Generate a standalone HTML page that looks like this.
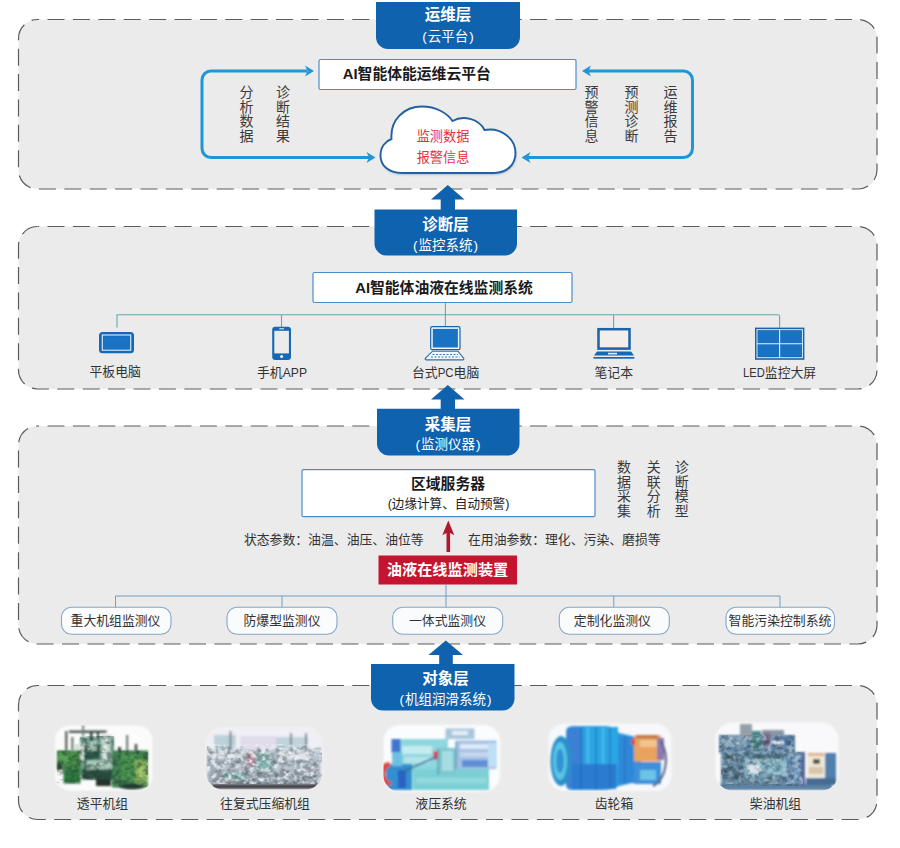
<!DOCTYPE html>
<html lang="zh-CN">
<head>
<meta charset="utf-8">
<title>AI智能体油液在线监测系统架构</title>
<style>
html,body{margin:0;padding:0;background:#fff;}
body{width:900px;height:848px;overflow:hidden;position:relative;font-family:"Liberation Sans","Noto Sans CJK SC",sans-serif;}
svg{position:absolute;left:0;top:0;display:block;}
svg text{font-family:"Liberation Sans","Noto Sans CJK SC",sans-serif;}
.panel{fill:#ebebeb;stroke:#5c5c5c;stroke-width:1.2;stroke-dasharray:17 8.4;stroke-dashoffset:-10;}
.tab{fill:#0f62ad;}
.tt{fill:#fff;font-weight:700;font-size:15.5px;text-anchor:middle;}
.ts{fill:#fff;font-size:13.5px;text-anchor:middle;}
.box{fill:#fff;stroke:#4a8ec9;stroke-width:1.2;}
.bt{fill:#1a1a1a;font-weight:700;font-size:14.8px;text-anchor:middle;}
.lbl{fill:#333;font-size:12.85px;text-anchor:middle;}
.v{fill:#3a3a3a;font-size:14px;text-anchor:middle;}
.ln{fill:none;stroke:#63a9ac;stroke-width:1.1;}
.loop{fill:none;stroke:#2196d6;stroke-width:3;stroke-linejoin:round;}
.ah{fill:#2196d6;}
.up{fill:#0f62ad;}
.pill{fill:#f9fbfd;stroke:#86a6c4;stroke-width:1.1;}
.ib{fill:#1668b4;}
</style>
</head>
<body>
<svg width="900" height="848" viewBox="0 0 900 848">
<rect width="900" height="848" fill="#fff"/>

<!-- ===== panels ===== -->
<rect class="panel" x="18.5" y="19.5" width="858.5" height="169.5" rx="19" ry="19"/>
<rect class="panel" x="18.5" y="226.5" width="858.5" height="162.5" rx="19" ry="19"/>
<rect class="panel" x="18.5" y="426" width="858.5" height="218" rx="19" ry="19"/>
<rect class="panel" x="18.5" y="685.5" width="858.5" height="134" rx="19" ry="19"/>

<!-- ===== tabs ===== -->
<g id="tabs">
<path class="tab" d="M376 2H520V37a12 12 0 0 1-12 12H388a12 12 0 0 1-12-12Z"/>
<path class="tab" d="M374.5 209.5H517V243.5a12 12 0 0 1-12 12H386.5a12 12 0 0 1-12-12Z"/>
<path class="tab" d="M377 408.800H519.5V443.500a12 12 0 0 1-12 12H389a12 12 0 0 1-12-12Z"/>
<path class="tab" d="M371 664H514.5V698.5a12 12 0 0 1-12 12H383a12 12 0 0 1-12-12Z"/>
</g>

<!-- ===== up arrows ===== -->
<g id="uparrows">
<path class="up" d="M447.8 185L464.5 199.5H455V210H440.7V199.5H431Z"/>
<path class="up" d="M447.8 385L464.5 399.5H455V410H440.7V399.5H431Z"/>
<path class="up" d="M445.8 640.5L463 655H452.8V664.5H439.2V655H428.5Z"/>
</g>

<!-- tab text -->
<text class="tt" x="448" y="20.0">运维层</text>
<text class="ts" x="448" y="40.5">(<tspan dx="0.9">云平台</tspan><tspan dx="0.9">)</tspan></text>
<text class="tt" x="445.5" y="230.0">诊断层</text>
<text class="ts" x="445.5" y="249.5">(<tspan dx="0.9">监控系统</tspan><tspan dx="0.9">)</tspan></text>
<text class="tt" x="448" y="429.5">采集层</text>
<text class="ts" x="448" y="449.0">(<tspan dx="0.9">监测仪器</tspan><tspan dx="0.9">)</tspan></text>
<text class="tt" x="445.5" y="683.5">对象层</text>
<text class="ts" x="445.5" y="703.5">(<tspan dx="0.9">机组润滑系统</tspan><tspan dx="0.9">)</tspan></text>

<!-- ===== panel 1 ===== -->
<g id="p1">
<defs><filter id="cbl" x="-10%" y="-10%" width="120%" height="130%"><feGaussianBlur stdDeviation="1.1"/></filter></defs>
<rect class="box" x="319" y="59.5" width="257" height="30" rx="1.500"/>
<text class="bt" x="416.800" y="78.500">AI智能体能运维云平台</text>
<path class="loop" d="M369 157.5H211a9 9 0 0 1-9-9V80a9 9 0 0 1 9-9H307"/>
<path class="ah" d="M314 71L305 65.500L307.500 71L305 76.500Z"/>
<path class="ah" d="M375.500 157.5L366.500 152L369 157.5L366.500 163Z"/>
<path class="loop" d="M588 71H683.500a9 9 0 0 1 9 9V148.500a9 9 0 0 1-9 9H528"/>
<path class="ah" d="M582 71L591 65.500L588.500 71L591 76.500Z"/>
<path class="ah" d="M521.500 157.5L530.500 152L528 157.5L530.500 163Z"/>
<g class="v">
<text x="246.500" y="97">分</text><text x="246.500" y="111.600">析</text><text x="246.500" y="126.200">数</text><text x="246.500" y="140.800">据</text>
<text x="283" y="97">诊</text><text x="283" y="111.600">断</text><text x="283" y="126.200">结</text><text x="283" y="140.800">果</text>
<text x="591.500" y="97">预</text><text x="591.500" y="111.600">警</text><text x="591.500" y="126.200">信</text><text x="591.500" y="140.800">息</text>
<text x="631.400" y="97">预</text><text x="631.400" y="111.600">测</text><text x="631.400" y="126.200">诊</text><text x="631.400" y="140.800">断</text>
<text x="670.600" y="97">运</text><text x="670.600" y="111.600">维</text><text x="670.600" y="126.200">报</text><text x="670.600" y="140.800">告</text>
</g>
<path d="M402 173C388 173 380.500 165 380.500 155.500C380.500 147 385.500 141 391.500 139C390 120 404 106.500 422 106.500C436 106.500 447 113 452.500 121C463 115 478.500 118.500 484.500 130C501 127 515.500 138.500 515.500 153C515.500 164.500 507 173 494 173Z" fill="#7fa6cf" opacity="0.75" transform="translate(0.6 1.6)" filter="url(#cbl)"/>
<path d="M402 173C388 173 380.500 165 380.500 155.500C380.500 147 385.500 141 391.500 139C390 120 404 106.500 422 106.500C436 106.500 447 113 452.500 121C463 115 478.500 118.500 484.500 130C501 127 515.500 138.500 515.500 153C515.500 164.500 507 173 494 173Z" fill="#fff" stroke="#2260a2" stroke-width="1.900"/>
<text x="443" y="140.500" font-size="13.200" fill="#e2313e" text-anchor="middle">监测数据</text>
<text x="443" y="161.700" font-size="13.200" fill="#e2313e" text-anchor="middle">报警信息</text>
</g>

<!-- ===== panel 2 ===== -->
<g id="p2">
<rect class="box" x="313" y="272.500" width="259" height="30" rx="1.500"/>
<text class="bt" x="444" y="292.700">AI智能体油液在线监测系统</text>
<path class="ln" d="M117 327.500V314.700H778a1.600 1.600 0 0 1 1.600 1.600V327.500M281.500 314.700V327M445.400 302.500V327M613.600 314.700V328"/>
<!-- tablet -->
<rect class="ib" x="99" y="332" width="35" height="21.200" rx="3.500"/>
<rect x="102.300" y="335" width="28.400" height="15.200" fill="none" stroke="#dff3ff" stroke-width="1.100"/>
<rect x="103.500" y="336.200" width="26" height="12.800" fill="#1a72c4"/>
<!-- phone -->
<rect class="ib" x="272.200" y="326.700" width="18.800" height="33.200" rx="3.200"/>
<rect x="274.300" y="330.800" width="14.600" height="22.600" fill="#ececec"/>
<rect x="279.300" y="328.300" width="4.600" height="1" fill="#e8f6ff"/>
<circle cx="281.600" cy="356.600" r="1.500" fill="#e8f6ff"/>
<!-- desktop pc -->
<rect x="430.700" y="326.700" width="29.300" height="23" rx="1.500" fill="#e6f5ff" stroke="#1b62a6" stroke-width="1.200"/>
<rect x="432.800" y="328.900" width="25.100" height="18.600" fill="#1a72c4"/>
<path d="M432.500 351.200H458L463.700 358.300a1 1 0 0 1-.8 1.600H426.100a1 1 0 0 1-.8-1.600Z" fill="#eef7ff" stroke="#2a6fb0" stroke-width="1.100"/>
<path d="M432.500 354.500H458M431 357H459.500" stroke="#3b7dbb" stroke-width="1.100" stroke-dasharray="2 1.500" fill="none"/>
<!-- laptop -->
<rect x="598.500" y="329.200" width="31" height="19.400" fill="#f1eeec" stroke="#1b62a6" stroke-width="2.500"/>
<path class="ib" d="M597 351.600H631L634 355.600H594Z"/>
<rect x="608" y="352.800" width="9" height="1.600" fill="#dff3ff"/>
<rect class="ib" x="593.500" y="357" width="40.800" height="1.700"/>
<!-- LED -->
<rect x="755" y="327.600" width="49.400" height="32.200" fill="#1b62a6"/>
<rect x="757" y="329.700" width="45.400" height="28" fill="none" stroke="#dff3ff" stroke-width="1"/>
<rect x="758" y="330.700" width="43.400" height="26" fill="#1a72c4"/>
<path d="M779.600 329.700V357.700M757 343.800H802.400" stroke="#dff3ff" stroke-width="1.100" fill="none"/>
<text class="lbl" x="115.200" y="376">平板电脑</text>
<text class="lbl" style="text-anchor:start" x="257" y="376.600">手机<tspan textLength="24.300" lengthAdjust="spacingAndGlyphs">APP</tspan></text>
<text class="lbl" style="text-anchor:start" x="412" y="376.600">台式<tspan textLength="15.900" lengthAdjust="spacingAndGlyphs">PC</tspan>电脑</text>
<text class="lbl" x="613.800" y="376.600">笔记本</text>
<text class="lbl" style="text-anchor:start" x="743" y="376.600"><tspan textLength="21.800" lengthAdjust="spacingAndGlyphs">LED</tspan>监控大屏</text>
</g>

<!-- ===== panel 3 ===== -->
<g id="p3">
<rect class="box" x="302" y="469.700" width="293" height="47" rx="1.500"/>
<text class="bt" x="448" y="489">区域服务器</text>
<text x="448.500" y="507.500" font-size="12.600" fill="#222" text-anchor="middle">(边缘计算、自动预警)</text>
<text class="lbl" x="333.800" y="544.200">状态参数：油温、油压、油位等</text>
<text class="lbl" x="564.300" y="544.200">在用油参数：理化、污染、磨损等</text>
<g class="v">
<text x="624" y="472">数</text><text x="624" y="486.700">据</text><text x="624" y="501.400">采</text><text x="624" y="516.100">集</text>
<text x="653.700" y="472">关</text><text x="653.700" y="486.700">联</text><text x="653.700" y="501.400">分</text><text x="653.700" y="516.100">析</text>
<text x="681.800" y="472">诊</text><text x="681.800" y="486.700">断</text><text x="681.800" y="501.400">模</text><text x="681.800" y="516.100">型</text>
</g>
<path d="M448.300 520.500L454.300 535.300L450.100 533V552H446.500V533L442.300 535.300Z" fill="#b3162f"/>
<rect x="378.500" y="555.500" width="138.500" height="29" fill="#c4142f"/>
<text x="447.500" y="574.800" font-size="15.200" font-weight="700" fill="#fff" text-anchor="middle">油液在线监测装置</text>
<path class="ln" d="M115.500 607V596H780V607M282 596V607M446 584.500V607M613.800 596V607" style="stroke:#6b9dc6;stroke-width:1"/>
<rect class="pill" x="61.500" y="607.300" width="109.500" height="27" rx="10"/>
<rect class="pill" x="227" y="607.300" width="110" height="27" rx="10"/>
<rect class="pill" x="392.700" y="607.300" width="110" height="27" rx="10"/>
<rect class="pill" x="559.300" y="607.300" width="110" height="27" rx="10"/>
<rect class="pill" x="726" y="607.300" width="108.500" height="27" rx="10"/>
<text class="lbl" x="115.500" y="625.400">重大机组监测仪</text>
<text class="lbl" x="282" y="625.400">防爆型监测仪</text>
<text class="lbl" x="447.500" y="625.400">一体式监测仪</text>
<text class="lbl" x="612.400" y="625.200">定制化监测仪</text>
<text class="lbl" x="780" y="625.400">智能污染控制系统</text>
</g>

<!-- ===== panel 4 ===== -->
<g id="p4">
<defs>
<filter id="bl" x="-10%" y="-10%" width="120%" height="120%"><feGaussianBlur stdDeviation="0.9"/></filter>
<filter id="bl2" x="-10%" y="-10%" width="120%" height="120%"><feGaussianBlur stdDeviation="1.6"/></filter>
<filter id="nzd" x="0" y="0" width="100%" height="100%" color-interpolation-filters="sRGB"><feTurbulence type="fractalNoise" baseFrequency="0.16 0.2" numOctaves="2" seed="7" result="n"/><feColorMatrix in="n" type="matrix" values="0 0 0 0 0.13  0 0 0 0 0.2  0 0 0 0 0.2  2.4 2.4 0 0 -2.1"/><feGaussianBlur stdDeviation="0.7"/><feComposite operator="in" in2="SourceGraphic"/></filter>
<filter id="nzl" x="0" y="0" width="100%" height="100%" color-interpolation-filters="sRGB"><feTurbulence type="fractalNoise" baseFrequency="0.18 0.22" numOctaves="2" seed="21" result="n"/><feColorMatrix in="n" type="matrix" values="0 0 0 0 0.93  0 0 0 0 0.95  0 0 0 0 0.97  0 2.2 2.2 0 -2.0"/><feGaussianBlur stdDeviation="0.7"/><feComposite operator="in" in2="SourceGraphic"/></filter>
<clipPath id="m1"><rect x="57" y="750.500" width="24" height="33"/><rect x="80" y="736" width="34" height="44"/><rect x="112" y="750.500" width="36" height="37"/></clipPath>
<clipPath id="c1"><rect x="55" y="725.5" width="97.500" height="65" rx="15"/></clipPath>
<clipPath id="c2"><rect x="206" y="727.5" width="116.500" height="62" rx="17"/></clipPath>
<clipPath id="c3"><rect x="383.500" y="725" width="116.500" height="66.500" rx="16"/></clipPath>
<clipPath id="c4"><rect x="548.500" y="723.500" width="123" height="67.500" rx="16"/></clipPath>
<clipPath id="c5"><rect x="715.500" y="722.500" width="123" height="68" rx="17"/></clipPath>
</defs>

<!-- photo 1 : turbine -->
<rect x="55" y="725.500" width="97.500" height="65" rx="15" fill="#fbfbfb" filter="url(#bl)"/>
<g clip-path="url(#c1)"><g filter="url(#bl)">
<rect x="80" y="737" width="34" height="38" fill="#6e9c8b"/>
<rect x="74.500" y="744" width="10" height="16" fill="#d3e2da"/>
<rect x="84" y="745" width="16" height="20" fill="#2f6150"/>
<rect x="88" y="741" width="9" height="10" fill="#a9c9bb"/>
<rect x="101" y="735" width="10" height="25" fill="#b7d1c6"/>
<rect x="104" y="737" width="3" height="22" fill="#e3eee9"/>
<rect x="86.500" y="760" width="27" height="10" fill="#a7c7b7"/>
<rect x="82" y="769.500" width="34" height="10" fill="#2a5141"/>
<rect x="57" y="750.500" width="23.500" height="19" fill="#468c46"/>
<rect x="59" y="753" width="9" height="14" fill="#5aa356"/>
<rect x="63.500" y="769" width="17" height="14.500" fill="#2f7a40"/>
<rect x="57" y="762" width="5" height="8" fill="#2a4a38"/>
<rect x="112" y="750.500" width="36" height="37" fill="#3f8150"/>
<rect x="122" y="752" width="14" height="30" fill="#4c9650"/>
<rect x="135" y="760" width="13" height="24" fill="#7fb25a"/>
<rect x="138" y="766" width="8" height="14" fill="#9cc468"/>
<ellipse cx="132" cy="786.500" rx="12.500" ry="3" fill="#223d30"/>
<rect x="96" y="779" width="15" height="7" fill="#25302c"/>
<rect x="69" y="730.600" width="37.500" height="2.200" fill="#39463f"/>
<rect x="65.300" y="731" width="2" height="19.500" fill="#3d4a43"/>
<rect x="71.500" y="737" width="1.800" height="13" fill="#4b5850"/>
<rect x="82.300" y="722" width="1.800" height="14" fill="#6a766f"/>
<rect x="90" y="732" width="2.500" height="9" fill="#33423b"/>
<rect x="97" y="731" width="2" height="8" fill="#33423b"/>
<rect x="126.300" y="735" width="1.800" height="16" fill="#56635c"/>
<rect x="134.800" y="744" width="2.400" height="8" fill="#3d4a44"/>
<rect x="118" y="747" width="3" height="5" fill="#3d4a44"/>
</g>
<g clip-path="url(#m1)"><rect x="57" y="735" width="91" height="53" fill="#000" filter="url(#nzd)" opacity="0.45"/></g>
</g>

<!-- photo 2 : reciprocating compressor -->
<rect x="206" y="727.500" width="116.500" height="62" rx="17" fill="#f3f3f7" filter="url(#bl)"/>
<g clip-path="url(#c2)"><g filter="url(#bl)">
<rect x="206" y="727.500" width="117" height="20" fill="#efeff5"/>
<rect x="207" y="748" width="114" height="37" fill="#bcc5cd"/>
<rect x="207" y="758" width="114" height="7" fill="#a0aab4"/>
<rect x="209" y="770" width="112" height="13" fill="#98a2ac"/>
<rect x="214" y="735" width="22" height="15" fill="#bcd2d8"/>
<rect x="274" y="737" width="34" height="14" fill="#c3d3dc"/>
<rect x="229.500" y="731" width="2" height="18" fill="#77838c"/>
<rect x="290" y="733" width="2" height="16" fill="#77838c"/>
<rect x="305" y="733" width="2" height="18" fill="#77838c"/>
<rect x="256" y="753" width="17" height="18" fill="#86b6b2"/>
<rect x="224" y="773" width="24" height="6" fill="#7fb0aa"/>
<rect x="247" y="753" width="9" height="13" fill="#b88a9e"/>
<rect x="212" y="752" width="28" height="7" fill="#d9e0e6"/>
<rect x="279" y="752" width="30" height="8" fill="#dfe4ea"/>
<rect x="240" y="736" width="36" height="14" fill="#e1dcea"/>
<rect x="313" y="755" width="8" height="20" fill="#b9c1cc"/>
<rect x="212" y="783.800" width="106" height="5.200" fill="#47474f"/>
</g>
<rect x="207" y="746" width="115" height="38" fill="#000" filter="url(#nzd)" opacity="0.35"/>
<rect x="207" y="744" width="115" height="40" fill="#000" filter="url(#nzl)" opacity="0.85"/>
</g>

<!-- photo 3 : hydraulic system -->
<rect x="383.500" y="725" width="116.500" height="66.500" rx="16" fill="#fbfcfd" filter="url(#bl)"/>
<g clip-path="url(#c3)"><g filter="url(#bl)">
<rect x="398" y="739" width="50" height="32" fill="#8fd7df"/>
<rect x="402" y="746" width="30" height="8" fill="#c4ecf0"/>
<rect x="404" y="757" width="26" height="6" fill="#b3e4ea"/>
<rect x="412.500" y="769" width="76.500" height="21" fill="#7bd0d5"/>
<rect x="416" y="778" width="70" height="5" fill="#93dade"/>
<rect x="456" y="740.500" width="40.500" height="28.500" fill="#a3bfe4"/>
<rect x="460" y="744" width="30" height="5" fill="#dde9f6"/>
<rect x="460" y="752" width="30" height="5" fill="#c4d6ee"/>
<rect x="462" y="760" width="28" height="7" fill="#5f8fd4"/>
<rect x="488" y="743" width="9" height="24" fill="#bfe0f4"/>
<rect x="438" y="748" width="18" height="27" fill="#7fc6cf"/>
<rect x="442" y="751" width="11" height="20" fill="#a5dde2"/>
<rect x="445.500" y="728.500" width="29" height="10.500" fill="#a9c6dc"/>
<rect x="452" y="731" width="16" height="4" fill="#e4eef6"/>
<rect x="391.500" y="739" width="9" height="14" fill="#3f74d0"/>
<rect x="386" y="764" width="26" height="26" fill="#318fd0"/>
<rect x="392" y="752" width="10" height="14" fill="#6ec0e0"/>
<rect x="398" y="770" width="8" height="18" fill="#2a62c0"/>
<path d="M389 762a10 12 0 0 0 1 24l2-4a6 8 0 0 1-1-16Z" fill="#e4483c"/>
<rect x="433.500" y="751" width="4.500" height="8.500" fill="#e53a52"/>
<path d="M402 772L436 757" stroke="#356a96" stroke-width="1.600" fill="none"/>
<path d="M438 748V775M456 741V769" stroke="#3f8fa8" stroke-width="1" fill="none"/>
</g></g>

<!-- photo 4 : gearbox -->
<rect x="548.500" y="723.500" width="123" height="67.500" rx="16" fill="#f7f8fb" filter="url(#bl)"/>
<g clip-path="url(#c4)"><g filter="url(#bl)">
<path d="M566 732Q566 726 573 726H606Q616 727 619 733L641 738V781L619 786Q613 790 602 790H573Q566 790 566 785Z" fill="#2d94de"/>
<rect x="584" y="727" width="34" height="38" fill="#2ba6e4"/>
<rect x="567" y="728" width="14" height="60" fill="#3a80d2"/>
<rect x="619" y="737" width="22" height="46" fill="#2f88d8"/>
<rect x="572" y="764" width="44" height="25" fill="#2b7bd0"/>
<path d="M581 728V789M596 727V790M610 728V789M625 736V784" stroke="#2467b8" stroke-width="1.400" fill="none" opacity="0.7"/>
<path d="M588 727V764M603 727V764" stroke="#6fd0f0" stroke-width="1.600" fill="none" opacity="0.6"/>
<ellipse cx="561" cy="761" rx="10.500" ry="25" fill="#2a90cc"/>
<ellipse cx="560" cy="761" rx="7" ry="19" fill="#5cc4e6"/>
<ellipse cx="560" cy="761" rx="4" ry="12" fill="#2f94d4"/>
<rect x="634" y="735.500" width="27" height="26" fill="#e9a35e"/>
<rect x="640" y="740" width="17" height="7" fill="#f3c58e"/>
<rect x="636" y="735" width="22" height="3.500" fill="#c47a4a"/>
<rect x="657" y="738" width="7" height="22" fill="#8a7ab0"/>
<rect x="634" y="762" width="27" height="22" fill="#3f8fda"/>
<rect x="640" y="770" width="16" height="10" fill="#6cc4e6"/>
<path d="M661 741Q669 756 664 772Q661 782 653 786" stroke="#5a5f80" stroke-width="2" fill="none"/>
<rect x="631.500" y="739" width="3.500" height="6" fill="#d94a4a"/>
</g></g>

<!-- photo 5 : diesel generator set -->
<rect x="715.500" y="722.500" width="123" height="68" rx="17" fill="#f9f9fb" filter="url(#bl)"/>
<g clip-path="url(#c5)"><g filter="url(#bl)">
<rect x="719" y="735" width="76" height="18" fill="#6487a8"/>
<rect x="721" y="752" width="80" height="34" fill="#6b90ab"/>
<rect x="720" y="737" width="26" height="10" fill="#86a8c4"/>
<rect x="724" y="753" width="60" height="10" fill="#55788f"/>
<rect x="744" y="759" width="48" height="16" fill="#86b6c8"/>
<rect x="722" y="766" width="22" height="14" fill="#507089"/>
<rect x="748" y="765" width="12" height="8" fill="#d8e5ec"/>
<rect x="720" y="784" width="112" height="6" fill="#5d82a4"/>
<rect x="740" y="724" width="12" height="13" fill="#959fa8"/>
<rect x="752" y="731" width="9" height="20" fill="#4c8788"/>
<rect x="762" y="730" width="22" height="6" fill="#8795a4"/>
<rect x="768" y="738" width="26" height="9" fill="#4f76a4"/>
<rect x="770" y="741" width="14" height="3" fill="#dfe8f0"/>
<rect x="764" y="733" width="6" height="14" fill="#7a6a8c"/>
<rect x="786" y="757" width="18" height="27" fill="#6f98c0"/>
<rect x="801" y="752" width="4" height="34" fill="#5a68a0"/>
<rect x="807" y="752.500" width="18" height="25" fill="#efe8dc"/>
<rect x="808" y="753" width="16" height="3" fill="#e4b090"/>
<rect x="813" y="759" width="7" height="5" fill="#5e5230"/>
<rect x="809" y="767" width="14" height="7" fill="#d6c6a6"/>
<rect x="825" y="753" width="11" height="30" fill="#4f80ae"/>
<rect x="806" y="778" width="30" height="7" fill="#476c94"/>
</g>
<rect x="719" y="735" width="76" height="17" fill="#000" filter="url(#nzd)" opacity="0.4"/><rect x="721" y="752" width="82" height="34" fill="#000" filter="url(#nzd)" opacity="0.4"/>
<rect x="719" y="735" width="76" height="17" fill="#000" filter="url(#nzl)" opacity="0.4"/><rect x="721" y="752" width="82" height="32" fill="#000" filter="url(#nzl)" opacity="0.4"/>
</g>

<text class="lbl" x="102.500" y="808.200">透平机组</text>
<text class="lbl" x="265" y="808.200">往复式压缩机组</text>
<text class="lbl" x="441" y="808.200">液压系统</text>
<text class="lbl" x="614" y="808.200">齿轮箱</text>
<text class="lbl" x="775.500" y="808.200">柴油机组</text>
</g>
</svg>
</body>
</html>
